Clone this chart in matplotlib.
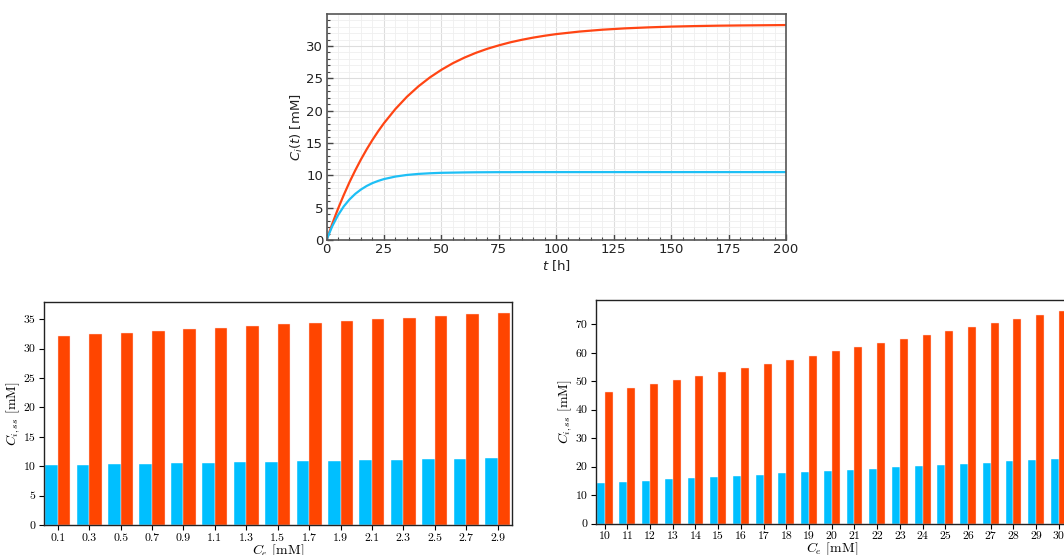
import matplotlib
matplotlib.use("Agg")
import matplotlib.pyplot as plt
from matplotlib.ticker import MultipleLocator
import numpy as np

# ---- data: time course ----
t_h = [0, 2.5, 5, 7.5, 10, 12.5, 15, 17.5, 20, 22.5, 25, 30, 35, 40, 45, 50, 55, 60,
       65, 70, 75, 80, 85, 90, 95, 100, 110, 120, 130, 140, 150, 160, 170, 180, 190, 200]
ci_red = [0, 2.50, 4.82, 6.95, 8.94, 10.76, 12.46, 14.03, 15.48, 16.82, 18.06, 20.26,
          22.15, 23.76, 25.14, 26.32, 27.34, 28.20, 28.94, 29.57, 30.10, 30.57, 30.96,
          31.30, 31.59, 31.84, 32.23, 32.52, 32.73, 32.88, 33.00, 33.08, 33.14, 33.18,
          33.21, 33.24]
ci_blue = [0, 2.13, 3.83, 5.19, 6.27, 7.13, 7.81, 8.36, 8.80, 9.14, 9.42, 9.81, 10.06,
           10.22, 10.32, 10.39, 10.42, 10.45, 10.47, 10.48, 10.49, 10.49, 10.50, 10.50,
           10.50, 10.50, 10.50, 10.50, 10.50, 10.50, 10.50, 10.50, 10.50, 10.50, 10.50,
           10.50]

# ---- data: steady state, low Ce ----
ce_low = ["0.1", "0.3", "0.5", "0.7", "0.9", "1.1", "1.3", "1.5", "1.7", "1.9",
          "2.1", "2.3", "2.5", "2.7", "2.9"]
ss_low_blue = [10.15, 10.22, 10.3, 10.4, 10.5, 10.58, 10.65, 10.75, 10.85, 10.92,
               11.0, 11.07, 11.15, 11.25, 11.35]
ss_low_red = [32.1, 32.4, 32.7, 33.0, 33.25, 33.55, 33.85, 34.1, 34.4, 34.7,
              34.95, 35.25, 35.55, 35.85, 36.1]

# ---- data: steady state, high Ce ----
ce_high = [str(v) for v in range(10, 31)]
ss_high_blue = [14.3, 14.7, 15.1, 15.5, 15.9, 16.3, 16.8, 17.2, 17.6, 18.0, 18.5,
                18.9, 19.3, 19.7, 20.1, 20.6, 21.0, 21.4, 21.8, 22.3, 22.7]
ss_high_red = [46.2, 47.6, 49.1, 50.5, 51.9, 53.4, 54.8, 56.2, 57.6, 59.0, 60.5,
               61.9, 63.3, 64.8, 66.2, 67.6, 69.1, 70.5, 72.0, 73.4, 74.8]

RED = "#FF4500"
BLUE = "#00BFFF"
W, H = 1064, 555
fig = plt.figure(figsize=(W / 100, H / 100), dpi=100)


def ax_px(x0, y0, x1, y1):
    return fig.add_axes([x0 / W, 1 - y1 / H, (x1 - x0) / W, (y1 - y0) / H])


# ---- top plot ----
ax = ax_px(326.5, 14, 786, 240)
ax.plot(t_h, ci_red, color="#FF4514", lw=1.6)
ax.plot(t_h, ci_blue, color="#1EBFF5", lw=1.6)
ax.set_xlim(0, 200)
ax.set_ylim(0, 34.95)
ax.xaxis.set_major_locator(MultipleLocator(25))
ax.xaxis.set_minor_locator(MultipleLocator(5))
ax.yaxis.set_major_locator(MultipleLocator(5))
ax.yaxis.set_minor_locator(MultipleLocator(1))
ax.grid(which="major", color="#dddddd", lw=0.8)
ax.grid(which="minor", color="#efefef", lw=0.6)
ax.set_axisbelow(True)
ax.tick_params(which="both", direction="in", colors="#444444", labelcolor="#222222",
               top=False, right=False)
ax.tick_params(which="major", length=4, width=1, labelsize=9.5, pad=2.5)
ax.tick_params(which="minor", length=2, width=0.8)
for s in ax.spines.values():
    s.set_color("#555555")
    s.set_linewidth(1.2)
ax.set_xlabel("$t$ [h]", fontsize=9.5, color="#222222", labelpad=1)
ax.set_ylabel("$C_i(t)$ [mM]", fontsize=9.5, color="#222222", labelpad=1)


def bar_axes(axb, cats, blue, red, width, xlim):
    x = np.arange(len(cats))
    axb.bar(x - width / 2, blue, width, color=BLUE, edgecolor="#ffffff", linewidth=0.3)
    axb.bar(x + width / 2, red, width, color=RED, edgecolor="#ffdddd", linewidth=0.3)
    axb.set_xticks(x)
    axb.set_xticklabels(cats)
    axb.set_xlim(*xlim)
    axb.margins(y=0.05)
    axb.tick_params(direction="out", length=3.5, width=0.8, labelsize=8.5, pad=2.5,
                    top=False, right=False)
    for lab in axb.get_xticklabels() + axb.get_yticklabels():
        lab.set_fontfamily("cmr10")
    for s in axb.spines.values():
        s.set_color("#222222")
        s.set_linewidth(1.0)
    axb.set_xlabel("$C_e$ [mM]", fontsize=10, math_fontfamily="cm",
                   fontfamily="cmr10", labelpad=-0.5)
    axb.set_ylabel("$C_{i,ss}$ [mM]", fontsize=10, math_fontfamily="cm",
                   fontfamily="cmr10", labelpad=1)


ax2 = ax_px(44, 302, 512, 525)
bar_axes(ax2, ce_low, ss_low_blue, ss_low_red, 0.4, (-0.44, 14.46))

ax3 = ax_px(596, 300, 1068, 523.5)
bar_axes(ax3, ce_high, ss_high_blue, ss_high_red, 0.35, (-0.38, 20.4))

fig.savefig("out.png", dpi=100)
